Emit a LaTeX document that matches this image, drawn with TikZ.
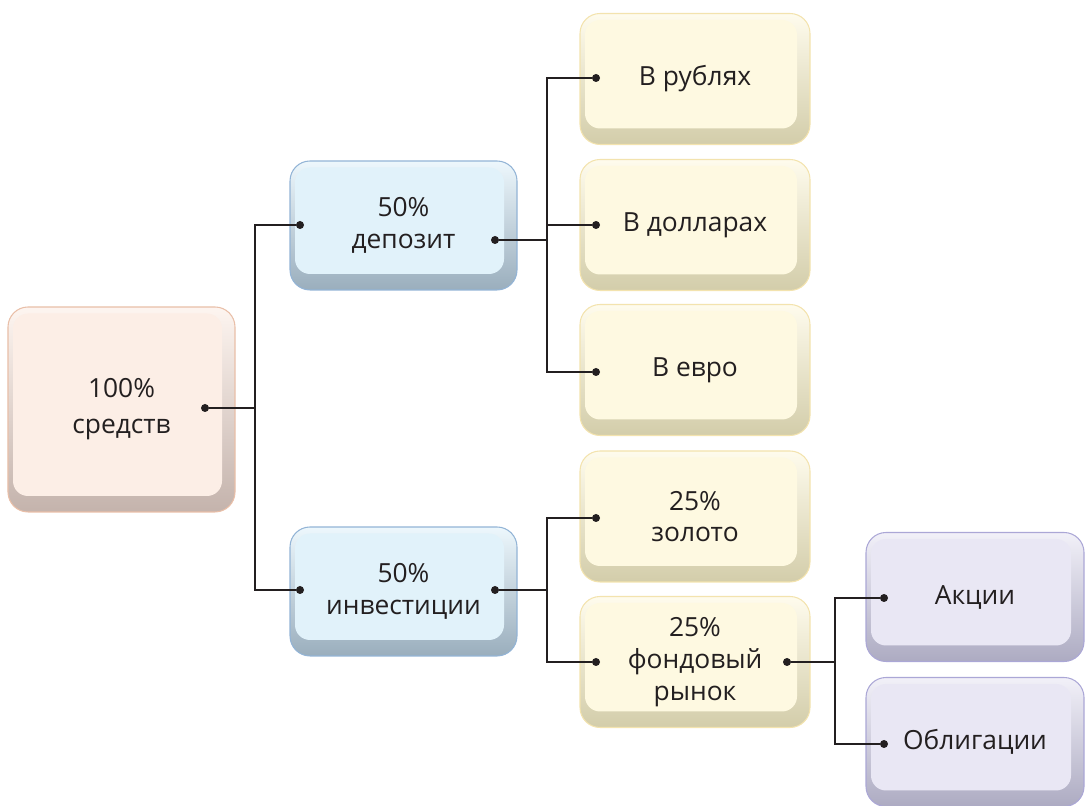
\documentclass[tikz,border=0pt]{standalone}
\usepackage{fontspec}
\setmainfont{Open Sans}
\usepackage{tikz}

\definecolor{rootface}{HTML}{FCEEE6}
\definecolor{rootedge}{HTML}{E9BFA8}
\definecolor{rootshade}{HTML}{C4B3AC}
\definecolor{depface}{HTML}{E1F2FA}
\definecolor{depedge}{HTML}{93B4D6}
\definecolor{depshade}{HTML}{9AAEBD}
\definecolor{goldface}{HTML}{FEF9E1}
\definecolor{goldedge}{HTML}{F3E3AE}
\definecolor{goldshade}{HTML}{D3CDAA}
\definecolor{stockface}{HTML}{E9E7F4}
\definecolor{stockedge}{HTML}{ABA7D6}
\definecolor{stockshade}{HTML}{ADABC2}
\definecolor{ink}{HTML}{231F20}

\tikzset{
  card/.style n args={3}{draw=#2, line width=0.6pt, rounded corners=0.4cm,
    top color=#1!60!white, bottom color=#3, inner sep=0pt,
    align=center, text=ink, font=\fontsize{15}{18}\selectfont,
    path picture={\fill[#1, rounded corners=0.3cm]
      ([shift={(0.10,0.32)}]path picture bounding box.south west) rectangle
      ([shift={(-0.26,-0.13)}]path picture bounding box.north east);}},
  rootbox/.style={card={rootface}{rootedge}{rootshade},
    minimum width=4.54cm, minimum height=4.10cm,
    font=\fontsize{15}{20.5}\selectfont},
  depbox/.style={card={depface}{depedge}{depshade},
    minimum width=4.54cm, minimum height=2.58cm},
  goldbox/.style={card={goldface}{goldedge}{goldshade},
    minimum width=4.60cm, minimum height=2.62cm},
  stockbox/.style={card={stockface}{stockedge}{stockshade},
    minimum width=4.36cm, minimum height=2.58cm},
  joint/.style={circle, fill=ink, inner sep=0pt, minimum size=0.16cm},
  link/.style={draw=ink, line width=1.3pt}
}

\begin{document}
\begin{tikzpicture}

\useasboundingbox (0,0) rectangle (21.72,16.12);

\node[rootbox] (root) at (2.43,7.93) {100\%\\средств};

\node[depbox] (dep) at (8.07,11.61) {50\%\\депозит};

\node[depbox] (inv) at (8.07,4.29) {50\%\\инвестиции};

\node[goldbox] (rub) at (13.90,14.54) {В рублях};

\node[goldbox] (usd) at (13.90,11.62) {В долларах};

\node[goldbox] (eur) at (13.90,8.72) {В евро};

\node[goldbox] (gold) at (13.90,5.79) {25\%\\золото};

\node[goldbox] (fund) at (13.90,2.88) {25\%\\фондовый\\рынок};

\node[stockbox] (shares) at (19.50,4.18) {Акции};

\node[stockbox] (bonds) at (19.50,1.28) {Облигации};

\node[joint] (root-out) at (4.10,7.96) {};

\node[joint] (dep-in) at (6.00,11.62) {};

\node[joint] (dep-out) at (9.90,11.32) {};

\node[joint] (inv-in) at (6.00,4.32) {};

\node[joint] (inv-out) at (9.90,4.32) {};

\node[joint] (rub-in) at (11.92,14.56) {};

\node[joint] (usd-in) at (11.92,11.62) {};

\node[joint] (eur-in) at (11.92,8.68) {};

\node[joint] (gold-in) at (11.92,5.76) {};

\node[joint] (fund-in) at (11.92,2.88) {};

\node[joint] (fund-out) at (15.74,2.88) {};

\node[joint] (shares-in) at (17.68,4.16) {};

\node[joint] (bonds-in) at (17.68,1.24) {};

\draw[link] (root-out) -- ++(1.00,0) coordinate (root-fork);

\draw[link] (root-fork) |- (dep-in);

\draw[link] (root-fork) |- (inv-in);

\draw[link] (dep-out) -- ++(1.04,0) coordinate (dep-fork);

\draw[link] (dep-fork) |- (rub-in);

\draw[link] (dep-fork) |- (usd-in);

\draw[link] (dep-fork) |- (eur-in);

\draw[link] (inv-out) -- ++(1.04,0) coordinate (inv-fork);

\draw[link] (inv-fork) |- (gold-in);

\draw[link] (inv-fork) |- (fund-in);

\draw[link] (fund-out) -- ++(0.96,0) coordinate (fund-fork);

\draw[link] (fund-fork) |- (shares-in);

\draw[link] (fund-fork) |- (bonds-in);

\end{tikzpicture}
\end{document}
